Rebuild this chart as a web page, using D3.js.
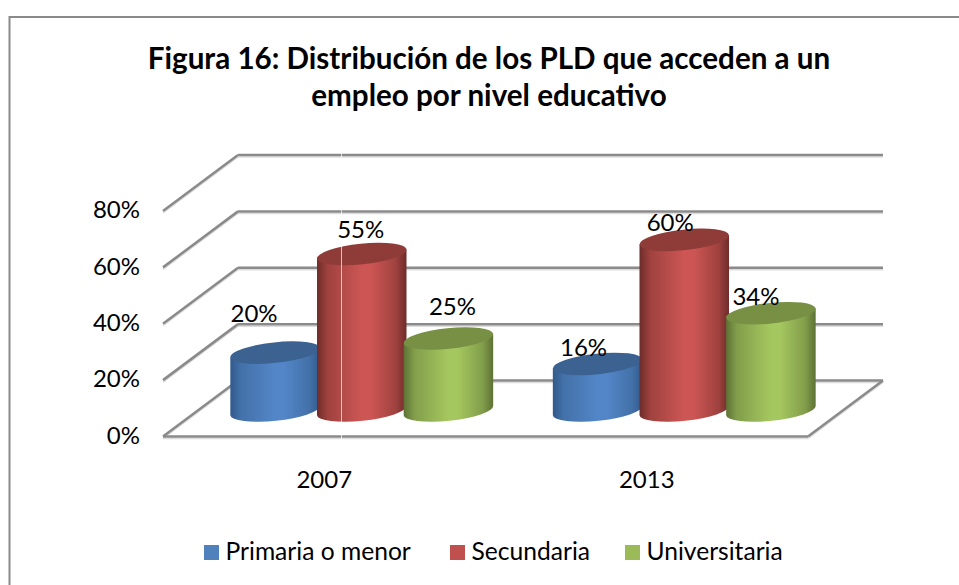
<!DOCTYPE html>
<html><head><meta charset="utf-8">
<script src="https://d3js.org/d3.v7.min.js"></script>
<style>html,body{margin:0;padding:0;background:#fff}svg{display:block}text{font-family:Lato,"Open Sans",sans-serif;fill:#000}</style>
</head><body><script>
const titleLines = ["Figura 16: Distribución de los PLD que acceden a un","empleo por nivel educativo"];
const years = ["2007","2013"];
const seriesNames = ["Primaria o menor","Secundaria","Universitaria"];
const primaria = [20,16];
const secundaria = [55,60];
const universitaria = [25,34];
const yTicks = [0,20,40,60,80];
const sideColors = ["#4f81bd","#c0504d","#9bbb59"];
const midColors = ["#5386c8","#cd5654","#a5c75f"];
const edgeColors = ["#315a8c","#6e2c2a","#5d7235"];
const topColors = ["#3c6291","#8f3c39","#789044"];
const allSeries = [primaria,secundaria,universitaria];

const W=959,H=585;
const svg=d3.select("body").append("svg").attr("width",W).attr("height",H);
const defs=svg.append("defs");
const depthX=75,depthY=-56;
const y=d3.scaleLinear().domain([0,80]).range([436.5,211]);
const x0=d3.scaleBand().domain(years).range([163,808]);
const x1=d3.scaleBand().domain(seriesNames).range([-130,130]);
const gridCol="#8a8a8a";

// frame: top and left edges only
svg.append("path").attr("d",`M9.5,${H}V17H${W}`).attr("fill","none").attr("stroke",gridCol).attr("stroke-width",2);

// title
svg.selectAll("text.title").data(titleLines).join("text").attr("class","title")
 .attr("x",489).attr("y",(d,i)=>[68.5,106][i]).attr("text-anchor","middle")
 .attr("font-size",29.6).attr("font-weight",700).text(d=>d);

// walls
const g=svg.append("g");
function seg(x1_,y1_,x2_,y2_){
 g.append("line").attr("x1",x1_).attr("y1",y1_+2).attr("x2",x2_).attr("y2",y2_+2).attr("stroke","#dcdcdc").attr("stroke-width",1.5);
 g.append("line").attr("x1",x1_).attr("y1",y1_).attr("x2",x2_).attr("y2",y2_).attr("stroke",gridCol).attr("stroke-width",2.5);
}
const xL=x0.range()[0],xR=x0.range()[1];
yTicks.forEach(t=>{
 seg(xL,y(t),xL+depthX,y(t)+depthY);
 seg(xL+depthX,y(t)+depthY,xR+depthX,y(t)+depthY);
});
seg(xL,y(0),xR,y(0));
seg(xR,y(0),xR+depthX,y(0)+depthY);

// y axis
const axisG=svg.append("g").attr("transform",`translate(${xL+1},-1)`)
 .call(d3.axisLeft(y).tickValues(yTicks).tickSize(0).tickPadding(24).tickFormat(d=>d+"%"));
axisG.select(".domain").remove();
axisG.selectAll("text").attr("font-size",24).attr("font-family",'Lato,sans-serif').style("fill","#000");

// x axis
const xAxisG=svg.append("g").attr("transform",`translate(0,${y(0)})`)
 .call(d3.axisBottom(x0).tickSize(0).tickPadding(34));
xAxisG.select(".domain").remove();
xAxisG.selectAll("text").attr("font-size",24).attr("font-family",'Lato,sans-serif').style("fill","#000");

// gradients
sideColors.forEach((c,i)=>{
 const lg=defs.append("linearGradient").attr("id","g"+i);
 [[0,edgeColors[i]],[.12,d3.interpolateRgb(edgeColors[i],c)(.6)],[.5,midColors[i]],[.6,midColors[i]],[.88,d3.interpolateRgb(edgeColors[i],c)(.6)],[1,edgeColors[i]]]
 .forEach(s=>lg.append("stop").attr("offset",s[0]).attr("stop-color",s[1]));
});

// cylinders
const rx=45,ry=10.3,tilt=-6,rad=tilt*Math.PI/180;
const dx=rx*Math.cos(rad),dy=rx*Math.sin(rad);
const barH=v=>y(0)-y(v);
const baseY=y(0)-26;
const capLift=1.5;
const labelNudge=[[[-21,-31],[-1,-16],[4,-24]],[[-14,-8],[-14,-9],[-15,-8]]];
const centre=(yr,i)=>x0(yr)+x0.bandwidth()/2+depthX/2+x1(seriesNames[i])+x1.bandwidth()/2;
const cyl=svg.append("g");
years.forEach((yr,j)=>{
 allSeries.forEach((s,i)=>{
  const cx=centre(yr,i);
  const top=baseY-capLift-barH(s[j]);
  cyl.append("path").attr("fill",`url(#g${i})`)
   .attr("d",`M${cx-dx},${top-dy}L${cx+dx},${top+dy}L${cx+dx},${baseY+dy}A${rx},${ry} ${tilt} 0 1 ${cx-dx},${baseY-dy}Z`);
  cyl.append("ellipse").attr("cx",0).attr("cy",0).attr("rx",rx).attr("ry",ry)
   .attr("transform",`translate(${cx},${top}) rotate(${tilt})`).attr("fill",topColors[i]);
 });
});
// white seam, under the data labels
svg.append("line").attr("x1",341.5).attr("x2",341.5).attr("y1",150).attr("y2",445).attr("stroke","#fff").attr("stroke-opacity",.7).attr("stroke-width",1);
// data labels
years.forEach((yr,j)=>{
 allSeries.forEach((s,i)=>{
  svg.append("text").attr("x",centre(yr,i)+labelNudge[j][i][0]).attr("y",baseY-capLift-barH(s[j])+labelNudge[j][i][1])
   .attr("text-anchor","middle").attr("font-size",24).text(s[j]+"%");
 });
});

// legend
const legendX=[204,450,625];
const lg=svg.append("g");
seriesNames.forEach((n,i)=>{
 lg.append("rect").attr("x",legendX[i]).attr("y",545).attr("width",15).attr("height",15).attr("fill",sideColors[i]);
 lg.append("text").attr("x",legendX[i]+21.5).attr("y",560).attr("font-size",24.6).text(n);
});
</script></body></html>
